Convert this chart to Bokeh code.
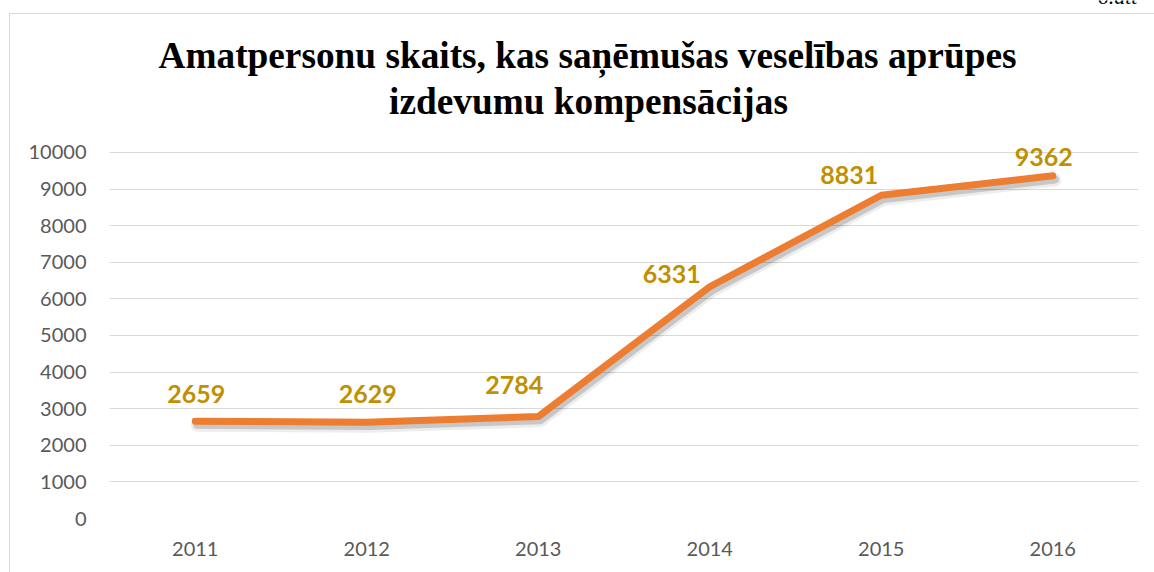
from bokeh.plotting import figure
from bokeh.models import ColumnDataSource, LabelSet, Label, FixedTicker, Range1d
from bokeh.core.properties import value
from bokeh.transform import dodge
from bokeh.embed import file_html
from bokeh.resources import INLINE

# ---- data ----
years = ["2011", "2012", "2013", "2014", "2015", "2016"]
counts = [2659, 2629, 2784, 6331, 8831, 9362]
y_ticks = [0, 1000, 2000, 3000, 4000, 5000, 6000, 7000, 8000, 9000, 10000]
title_lines = ["Amatpersonu skaits, kas saņēmušas veselības aprūpes",
               "izdevumu kompensācijas"]
corner_note = "6.att"

# label placement (screen px, styling only)
label_dx = [1, 1, -24, -38, -32, -9]
label_dy = [18, 19, 23, 4, 11, 10]

src = ColumnDataSource(data=dict(
    year=years, count=counts, label=[str(c) for c in counts],
    dx=label_dx, dy=label_dy,
))

# frame spans canvas top (y=0) to 518; 10000 sits at y=152
p = figure(x_range=years, y_range=Range1d(0, 14153), width=1154, height=572,
           output_backend="svg", toolbar_location=None,
           min_border_left=109, min_border_right=16,
           min_border_top=0, min_border_bottom=54)
p.styles = {
    "position": "absolute", "left": "0px", "top": "0px",
    "background": ("linear-gradient(#d9d9d9, #d9d9d9) 9px 13px / 1px 700px no-repeat, "
                   "linear-gradient(#d9d9d9, #d9d9d9) 9px 13px / 1300px 1px no-repeat, "
                   "#ffffff"),
}
p.outline_line_color = None
p.background_fill_alpha = 0
p.border_fill_alpha = 0

# grid / axes
p.xgrid.grid_line_color = None
p.ygrid.grid_line_color = "#d9d9d9"
p.ygrid.grid_line_width = 1
p.yaxis.ticker = FixedTicker(ticks=y_ticks)
for ax in (p.xaxis, p.yaxis):
    ax.axis_line_color = None
    ax.major_tick_line_color = None
    ax.minor_tick_line_color = None
    ax.major_tick_out = 0
    ax.major_tick_in = 0
    ax.major_label_text_font = "Lato"
    ax.major_label_text_font_size = "20px"
    ax.major_label_text_color = "#595959"
p.yaxis.major_label_standoff = 23
p.xaxis.major_label_standoff = 23

# shadow
p.line(x=dodge("year", 0.012, range=p.x_range), y=dodge("count", -110, range=p.y_range),
       source=src, line_color="black", line_alpha=0.07, line_width=13,
       line_join="round", line_cap="round")
p.line(x=dodge("year", 0.012, range=p.x_range), y=dodge("count", -100, range=p.y_range),
       source=src, line_color="black", line_alpha=0.16, line_width=8,
       line_join="round", line_cap="round")
# main line
p.line(x="year", y="count", source=src, line_color="#ED7D31", line_width=7,
       line_join="round", line_cap="round")

# data labels
p.add_layout(LabelSet(x="year", y="count", text="label", source=src,
                      x_offset="dx", y_offset="dy",
                      text_align="center", text_baseline="alphabetic",
                      text_font=value("Lato"), text_font_style="bold",
                      text_font_size="25px", text_color="#BF9000"))

# title (two lines)
p.add_layout(Label(x=2.787, y=12650, text=title_lines[0], text_align="center",
                   text_baseline="alphabetic", text_font="Liberation Serif",
                   text_font_style="bold", text_font_size="37.3px", text_color="black"))
p.add_layout(Label(x=2.793, y=11393, text=title_lines[1], text_align="center",
                   text_baseline="alphabetic", text_font="Liberation Serif",
                   text_font_style="bold", text_font_size="37.3px", text_color="black"))

# corner note (mostly off-page)
p.add_layout(Label(x=5.994, y=14262, text=corner_note, text_align="right",
                   text_baseline="alphabetic", text_font="Liberation Serif",
                   text_font_style="italic", text_font_size="22px", text_color="black"))

open("out.html", "w").write(file_html(p, INLINE))
